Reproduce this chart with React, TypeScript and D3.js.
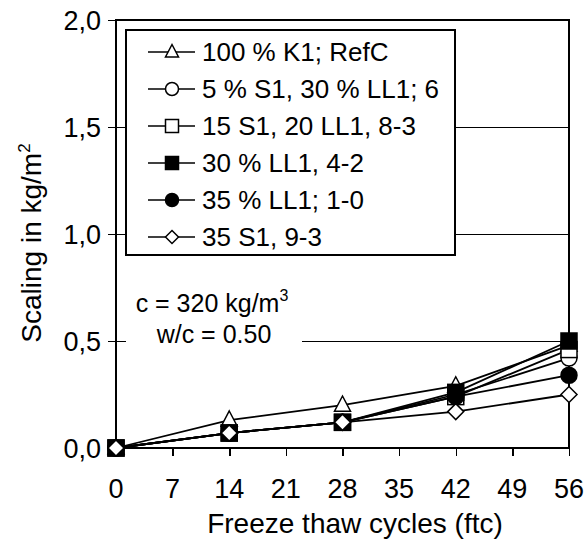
import React from "react";
import * as d3 from "d3";

const cycles = [0, 14, 28, 42, 56];
const seriesNames = [
  "100 % K1; RefC",
  "5 % S1, 30 % LL1; 6",
  "15 S1, 20 LL1, 8-3",
  "30 % LL1, 4-2",
  "35 % LL1; 1-0",
  "35 S1, 9-3",
];
const refC = [0, 0.13, 0.2, 0.29, 0.48];
const s1ll1_6 = [0, 0.07, 0.12, 0.25, 0.42];
const s1ll1_83 = [0, 0.07, 0.12, 0.24, 0.46];
const ll1_42 = [0, 0.07, 0.12, 0.26, 0.5];
const ll1_10 = [0, 0.07, 0.12, 0.24, 0.34];
const s1_93 = [0, 0.07, 0.12, 0.17, 0.25];
const seriesValues = [refC, s1ll1_6, s1ll1_83, ll1_42, ll1_10, s1_93];
const markerTypes = ["triangle", "circle", "square", "squareFilled", "circleFilled", "diamond"];
const xTicks = [0, 7, 14, 21, 28, 35, 42, 49, 56];
const yTicks = [0, 0.5, 1.0, 1.5, 2.0];

const W = 587;
const H = 541;
const M = { left: 116, right: 569, top: 20, bottom: 448 };
const FONT = "'Liberation Sans', Arial, sans-serif";

function Marker({ type, x, y, s }: { type: string; x: number; y: number; s: number }) {
  const h = s / 2;
  switch (type) {
    case "triangle":
      return (
        <path
          d={`M${x},${y - h * 1.15}L${x + h},${y + h * 0.75}L${x - h},${y + h * 0.75}Z`}
          fill="white"
          stroke="black"
          strokeWidth={1.5}
        />
      );
    case "circle":
      return <circle cx={x} cy={y} r={h} fill="white" stroke="black" strokeWidth={1.5} />;
    case "circleFilled":
      return <circle cx={x} cy={y} r={h} fill="black" stroke="black" strokeWidth={1.5} />;
    case "square":
      return <rect x={x - h} y={y - h} width={s} height={s} fill="white" stroke="black" strokeWidth={1.5} />;
    case "squareFilled":
      return <rect x={x - h} y={y - h} width={s} height={s} fill="black" stroke="black" strokeWidth={1.5} />;
    case "diamond":
      return (
        <path
          d={`M${x},${y - h}L${x + h},${y}L${x},${y + h}L${x - h},${y}Z`}
          fill="white"
          stroke="black"
          strokeWidth={1.5}
        />
      );
  }
  return null;
}

export default function App() {
  const x = d3.scaleLinear().domain([0, 56]).range([M.left, M.right]);
  const y = d3.scaleLinear().domain([0, 2]).range([M.bottom, M.top]);
  const line = d3
    .line<number>()
    .x((_, i) => x(cycles[i]))
    .y((d) => y(d));
  const fmt = (v: number) => v.toFixed(1).replace(".", ",");

  const legX = 126;
  const legY = 30;
  const legW = 329;
  const legH = 225;
  const rowH = 37;

  return (
    <svg width={W} height={H} style={{ position: "absolute", left: 0, top: 0 }} fontFamily={FONT}>
      <rect width={W} height={H} fill="white" />
      {/* gridlines */}
      {yTicks.slice(1, 4).map((t) => (
        <line
          key={t}
          x1={M.left}
          x2={M.right}
          y1={y(t) + 0.5}
          y2={y(t) + 0.5}
          stroke="black"
          strokeWidth={1}
          shapeRendering="crispEdges"
        />
      ))}
      {/* frame */}
      <rect
        x={M.left}
        y={M.top}
        width={M.right - M.left}
        height={M.bottom - M.top}
        fill="none"
        stroke="black"
        strokeWidth={2}
        shapeRendering="crispEdges"
      />
      {/* y ticks */}
      {yTicks.map((t) => (
        <g key={t}>
          <line
            x1={M.left - 8}
            x2={M.left}
            y1={y(t) + 0.5}
            y2={y(t) + 0.5}
            stroke="black"
            strokeWidth={1}
            shapeRendering="crispEdges"
          />
          <text x={M.left - 15} y={y(t)} dy="0.36em" textAnchor="end" fontSize={27}>
            {fmt(t)}
          </text>
        </g>
      ))}
      {/* x ticks */}
      {xTicks.map((t) => (
        <g key={t}>
          <line
            x1={x(t) + 0.5}
            x2={x(t) + 0.5}
            y1={M.bottom}
            y2={M.bottom + 8}
            stroke="black"
            strokeWidth={1.5}
            shapeRendering="crispEdges"
          />
          <text x={x(t)} y={M.bottom + 50} textAnchor="middle" fontSize={27}>
            {t}
          </text>
        </g>
      ))}
      {/* axis titles */}
      <text x={355} y={533} textAnchor="middle" fontSize={28}>
        Freeze thaw cycles (ftc)
      </text>
      <text transform="translate(41,243) rotate(-90)" textAnchor="middle" fontSize={28}>
        Scaling in kg/m<tspan dy={-11} fontSize={17}>2</tspan>
      </text>
      {/* annotation */}
      <rect x={126} y={282} width={176} height={72} fill="white" />
      <text x={212} y={312} textAnchor="middle" fontSize={25}>
        c = 320 kg/m<tspan dy={-11} fontSize={16}>3</tspan>
      </text>
      <text x={214} y={343} textAnchor="middle" fontSize={25}>
        w/c = 0.50
      </text>
      {/* series */}
      {seriesValues.map((vals, si) => (
        <path key={"l" + si} d={line(vals) || ""} fill="none" stroke="black" strokeWidth={1.8} />
      ))}
      {seriesValues.map((vals, si) => (
        <g key={"m" + si}>
          {vals.map((v, i) => (
            <Marker key={i} type={markerTypes[si]} x={x(cycles[i])} y={y(v)} s={16} />
          ))}
        </g>
      ))}
      {/* legend */}
      <rect
        x={legX}
        y={legY}
        width={legW}
        height={legH}
        fill="white"
        stroke="black"
        strokeWidth={1.5}
        shapeRendering="crispEdges"
      />
      {seriesNames.map((name, i) => {
        const cy = legY + 22 + i * rowH;
        return (
          <g key={name}>
            <line x1={148} x2={195} y1={cy} y2={cy} stroke="black" strokeWidth={1.5} />
            <Marker type={markerTypes[i]} x={172} y={cy} s={13} />
            <text x={202} y={cy} dy="0.36em" fontSize={26}>
              {name}
            </text>
          </g>
        );
      })}
    </svg>
  );
}
